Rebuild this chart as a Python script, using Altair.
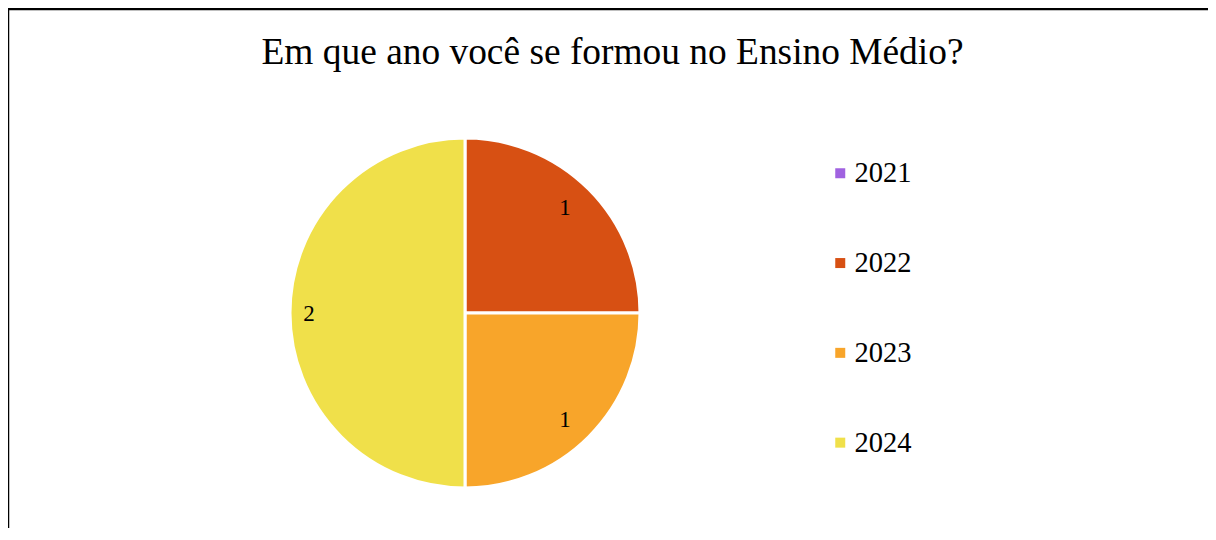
import altair as alt
import pandas as pd

years = ["2021", "2022", "2023", "2024"]
counts = [0, 1, 1, 2]
colors = ["#A062E0", "#D75013", "#F8A52A", "#F0E04A"]
title_text = ["Em que ano você se formou no Ensino Médio?"]

SERIF = "Liberation Serif"

df = pd.DataFrame({"ano": years, "n": counts})
df_title = pd.DataFrame({"t": title_text})
df_frame = pd.DataFrame({"f": [1]})

CX, CY = 457, 305

base = alt.Chart(df).encode(
    theta=alt.Theta("n:Q", stack=True),
    order=alt.Order("ano:N"),
)

pie = base.mark_arc(outerRadius=175, stroke="white", strokeWidth=3).encode(
    x=alt.value(CX),
    y=alt.value(CY),
    color=alt.Color(
        "ano:N",
        scale=alt.Scale(domain=years, range=colors),
        legend=alt.Legend(
            title=None,
            orient="none",
            direction="vertical",
            legendX=818,
            legendY=151,
            symbolType="square",
            symbolSize=100,
            symbolStrokeWidth=0,
            labelFont=SERIF,
            labelFontSize=28.5,
            labelColor="black",
            labelOffset=0,
            rowPadding=60.8,
            padding=0,
        ),
    ),
)

labels = base.transform_filter("datum.n > 0").mark_text(
    radius=150, font=SERIF, fontSize=23, color="black", dx=-6, dy=1
).encode(
    x=alt.value(CX),
    y=alt.value(CY),
    text=alt.Text("n:Q"),
)

title = alt.Chart(df_title).mark_text(
    font=SERIF, fontSize=37.4, color="black", baseline="alphabetic", align="center"
).encode(
    x=alt.value(604.5),
    y=alt.value(55.5),
    text="t:N",
)

top_line = alt.Chart(df_frame).mark_rule(color="black", strokeWidth=2.5).encode(
    x=alt.value(-1),
    x2=alt.value(1215),
    y=alt.value(1),
)
left_line = alt.Chart(df_frame).mark_rule(color="black", strokeWidth=2.5).encode(
    x=alt.value(0),
    y=alt.value(0),
    y2=alt.value(700),
)

chart = alt.layer(top_line, left_line, pie, labels, title).properties(
    width=1200,
    height=520,
    padding=0,
    autosize=alt.AutoSizeParams(type="none"),
).configure_view(stroke=None).configure(background="white")

chart.save("out.html", embed_options={"renderer": "svg", "actions": False})
